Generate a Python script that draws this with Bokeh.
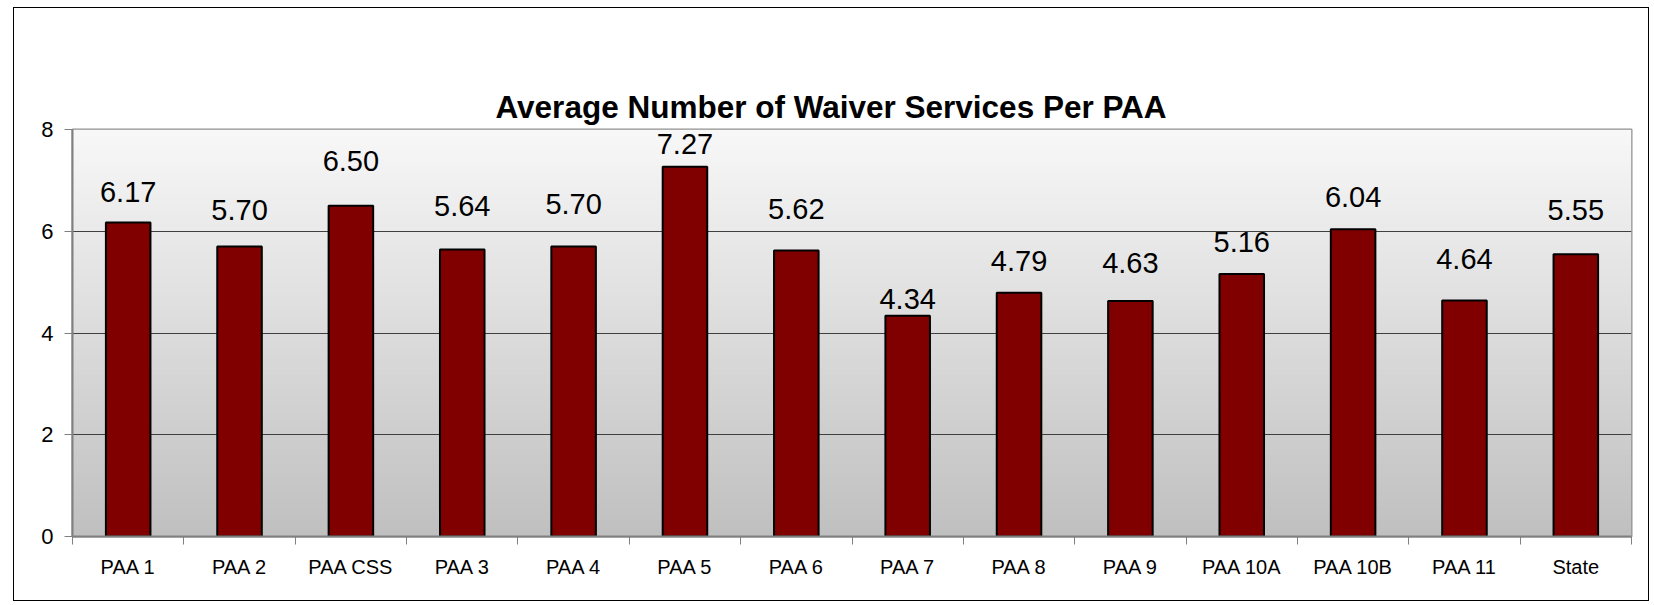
import numpy as np
from bokeh.plotting import figure
from bokeh.models import Range1d, FixedTicker, ColumnDataSource, LabelSet, LinearAxis
from bokeh.core.properties import value
from bokeh.embed import file_html
from bokeh.resources import INLINE

categories = ["PAA 1", "PAA 2", "PAA CSS", "PAA 3", "PAA 4", "PAA 5", "PAA 6",
              "PAA 7", "PAA 8", "PAA 9", "PAA 10A", "PAA 10B", "PAA 11", "State"]
averages = [6.17, 5.70, 6.50, 5.64, 5.70, 7.27, 5.62, 4.34, 4.79, 4.63, 5.16, 6.04, 4.64, 5.55]
y_ticks = [0, 2, 4, 6, 8]
title_text = "Average Number of Waiver Services Per PAA"

# styling: pixel gap between each bar top and its value label baseline (as placed in the original)
label_gap_px = [21, 27, 35, 34, 33, 13, 32, 7, 22, 28, 22, 22, 31, 34]

FONT = "Liberation Sans"
n = len(categories)
centers = [i + 0.5 for i in range(n)]
bounds = list(range(n + 1))

p = figure(width=1636, height=594, output_backend="svg", toolbar_location=None,
           x_range=Range1d(0, n), y_range=Range1d(0, 8),
           min_border_left=58, min_border_right=19, min_border_top=121, min_border_bottom=66,
           background_fill_color="white", border_fill_color="white",
           title=title_text)
p.styles = {"border": "1px solid #000000", "margin-left": "13px", "margin-top": "7px"}

p.title.align = "left"
p.title.offset = 423
p.title.text_font = FONT
p.title.text_font_size = "31.5px"
p.title.text_font_style = "bold"
p.title.text_color = "black"
p.title.standoff = 10

# invisible tick-less axis above the frame, used as a spacer that lifts the title
spacer_axis = LinearAxis(ticker=FixedTicker(ticks=[]), axis_line_color=None,
                         major_tick_line_color=None, minor_tick_line_color=None,
                         major_tick_out=58, major_tick_in=0, minor_tick_out=0,
                         major_label_standoff=0, axis_label=None)
p.add_layout(spacer_axis, "above")

# gradient background of plot area
N = 256
t = np.linspace(0, 1, N)
g = (0xc0 + (0xf8 - 0xc0) * t).astype(np.uint8)
img = np.zeros((N, 1), dtype=np.uint32)
view = img.view(dtype=np.uint8).reshape((N, 1, 4))
view[:, 0, 0] = g
view[:, 0, 1] = g
view[:, 0, 2] = g
view[:, 0, 3] = 255
p.image_rgba(image=[img], x=0, y=0, dw=n, dh=8, level="image")

src = ColumnDataSource(dict(x=centers, top=averages, cat=categories, gap=label_gap_px,
                            lab=["%.2f" % v for v in averages]))
p.vbar(x="x", top="top", width=0.4, source=src, fill_color="#800000",
       line_color="black", line_width=2)
labels = LabelSet(x="x", y="top", text="lab", source=src, text_align="center",
                  text_baseline="alphabetic", y_offset="gap", text_font=value(FONT),
                  text_font_size=value("29px"), text_color="black")
p.add_layout(labels)

# axes
xaxis = p.below[0]
xaxis.ticker = FixedTicker(ticks=centers, minor_ticks=bounds)
xaxis.major_label_overrides = {c: cat for c, cat in zip(centers, categories)}
xaxis.major_tick_line_color = None
xaxis.major_tick_out = 0
xaxis.major_tick_in = 0
xaxis.minor_tick_out = 8
xaxis.minor_tick_in = 0
xaxis.minor_tick_line_color = "#808080"
xaxis.axis_line_color = "#808080"
xaxis.axis_line_width = 2
xaxis.major_label_text_font = FONT
xaxis.major_label_text_font_size = "20px"
xaxis.major_label_text_color = "black"
xaxis.major_label_standoff = 11

yaxis = p.left[0]
yaxis.ticker = FixedTicker(ticks=y_ticks)
yaxis.minor_tick_line_color = None
yaxis.major_tick_out = 8
yaxis.major_tick_in = 0
yaxis.major_tick_line_color = "#808080"
yaxis.axis_line_color = "#808080"
yaxis.axis_line_width = 2
yaxis.major_label_text_font = FONT
yaxis.major_label_text_font_size = "22px"
yaxis.major_label_text_color = "black"
yaxis.major_label_standoff = 11

p.xgrid.grid_line_color = None
p.ygrid.ticker = FixedTicker(ticks=[2, 4, 6])
p.ygrid.grid_line_color = "#404040"
p.ygrid.grid_line_width = 1

p.outline_line_color = "#909090"
p.outline_line_width = 2

open("out.html", "w").write(file_html(p, INLINE))
